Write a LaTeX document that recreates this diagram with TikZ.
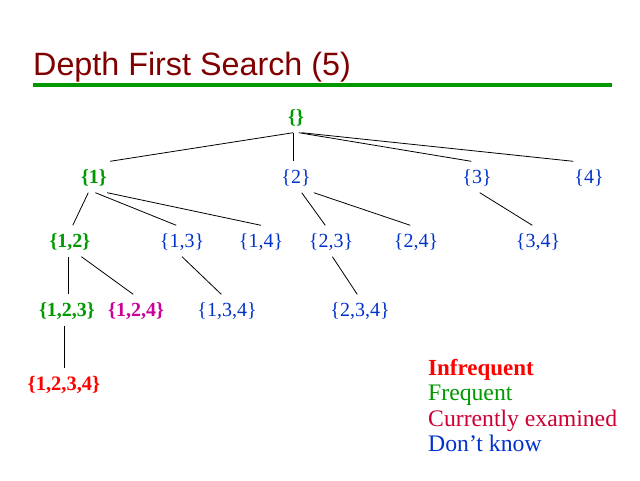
\documentclass[tikz,border=0pt]{standalone}
\usepackage{fontspec}
\setmainfont{Liberation Serif}
\newfontfamily\titlefont{Liberation Sans}
\definecolor{fgreen}{RGB}{0,153,0}
\definecolor{fblue}{RGB}{0,51,204}
\definecolor{fred}{RGB}{255,0,0}
\definecolor{fmag}{RGB}{204,0,153}
\definecolor{fcrim}{RGB}{204,0,51}
\definecolor{ftitle}{RGB}{128,0,0}
\begin{document}
\begin{tikzpicture}[x=1pt,y=-1pt,
  set/.style={inner xsep=3pt,inner ysep=5.5pt,text height=16pt,text depth=4pt,font=\fontsize{20}{22}\selectfont},
  freq/.style={set,text=fgreen,font=\fontsize{20}{22}\selectfont\bfseries},
  unk/.style={set,text=fblue},
  infreq/.style={set,text=fred,font=\fontsize{20.5}{22}\selectfont\bfseries},
  cur/.style={set,text=fmag,font=\fontsize{20}{22}\selectfont\bfseries},
  edge/.style={draw=black,line width=0.8pt},
  legend/.style={anchor=base west,inner sep=0pt,font=\fontsize{23.7}{25}\selectfont}]
\useasboundingbox (0,0) rectangle (640,480);
\fill[white] (0,0) rectangle (640,480);
% title
\node[anchor=base west,inner sep=0pt,text=ftitle,font=\titlefont\fontsize{32.3}{35}\selectfont] (title) at (33,75) {Depth First Search (5)};
\coordinate (ruleL) at (33,85);
\coordinate (ruleR) at (612,85);
\draw[fgreen,line width=4pt] (ruleL) -- (ruleR);
% nodes
\node[freq] (r) at (296,117) {\{\}};
\node[freq] (n1) at (94,177) {\{1\}};
\node[unk] (n2) at (296,177) {\{2\}};
\node[unk] (n3) at (477,177) {\{3\}};
\node[unk] (n4) at (589,177) {\{4\}};
\node[freq] (n12) at (70,241) {\{1,2\}};
\node[unk] (n13) at (182,241) {\{1,3\}};
\node[unk] (n14) at (261,241) {\{1,4\}};
\node[unk] (n23) at (331,241) {\{2,3\}};
\node[unk] (n24) at (416,241) {\{2,4\}};
\node[unk] (n34) at (538,241) {\{3,4\}};
\node[freq] (n123) at (67,310) {\{1,2,3\}};
\node[cur] (n124) at (136,310) {\{1,2,4\}};
\node[unk] (n134) at (227,310) {\{1,3,4\}};
\node[unk] (n234) at (360,310) {\{2,3,4\}};
\node[infreq] (n1234) at (64,384) {\{1,2,3,4\}};
% edges
\draw[edge] (r.-100) -- (n1.north east);
\draw[edge] (r.-100) -- (r.-100 |- n2.north);
\draw[edge] (r.-80) -- (n3.110);
\draw[edge] (r.-70) -- (n4.135);
\draw[edge] (n1.-110) -- (n12.80);
\draw[edge] (n1.-85) -- (n13.110);
\draw[edge] (n1.-50) -- (n14.north);
\draw[edge] (n2.-70) -- (n23.110);
\draw[edge] (n2.south east) -- (n24.110);
\draw[edge] (n3.-80) -- (n34.110);
\draw[edge] (n12.-95) -- (n12.-95 |- n123.north);
\draw[edge] (n12.-54) -- (n124.100);
\draw[edge] (n13.south) -- (n134.110);
\draw[edge] (n23.-85) -- (n234.100);
\draw[edge] (n123.south -| n1234.north) -- (n1234.north);
% legend
\node[legend,text=fred,font=\fontsize{23}{25}\selectfont\bfseries] (l1) at (428,375) {Infrequent};
\node[legend,text=fgreen] (l2) at (428,400) {Frequent};
\node[legend,text=fcrim] (l3) at (428,426) {Currently examined};
\node[legend,text=fblue] (l4) at (428,451) {Don’t know};
\end{tikzpicture}
\end{document}
